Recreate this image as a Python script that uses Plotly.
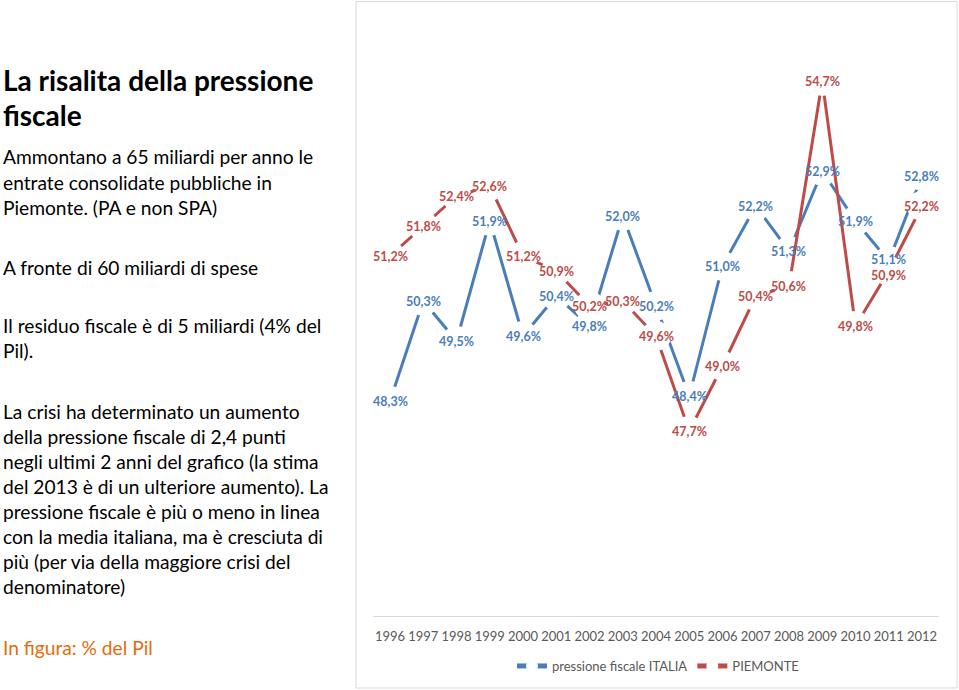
import plotly.graph_objects as go

W, H = 959, 690

years = list(range(1996, 2013))
italia = [48.3, 50.3, 49.5, 51.9, 49.6, 50.4, 49.8, 52.0, 50.2, 48.4, 51.0, 52.2, 51.3, 52.9, 51.9, 51.1, 52.8]
piemonte = [51.2, 51.8, 52.4, 52.6, 51.2, 50.9, 50.2, 50.3, 49.6, 47.7, 49.0, 50.4, 50.6, 54.7, 49.8, 50.9, 52.2]

BLUE = "#4A7EBB"
RED = "#BE4B48"
FONT = "Lato"


def fmt(v):
    return f"{v:.1f}%".replace(".", ",")


def px(x):
    return x / W


def py(y):
    return 1 - y / H


fig = go.Figure()
for name, vals, col in [("pressione fiscale ITALIA", italia, BLUE), ("PIEMONTE", piemonte, RED)]:
    fig.add_trace(go.Scatter(
        x=years, y=vals, name=name, mode="lines+markers",
        line=dict(color=col, width=3),
        marker=dict(symbol="circle", size=30, color="white", line=dict(width=0)),
        hoverinfo="skip",
    ))

# data labels (drawn above both series, like the original)
for vals, col, shifts in [(italia, BLUE, {15: 2}), (piemonte, RED, {15: -4})]:
    for i, (yr, v) in enumerate(zip(years, vals)):
        fig.add_annotation(
            x=yr, y=v, xref="x", yref="y", text=fmt(v), showarrow=False,
            xanchor="center", yanchor="middle", yshift=shifts.get(i, 0),
            font=dict(family=FONT, size=12.5, color=col, weight="bold"),
        )

# left-hand text
BODY = 19.2
left_lines = [
    ("La risalita della pressione", 80, 28, "bold", "#000000"),
    ("fiscale", 115, 28, "bold", "#000000"),
    ("Ammontano a 65 miliardi per anno le", 157, BODY, "normal", "#000000"),
    ("entrate consolidate pubbliche in", 182, BODY, "normal", "#000000"),
    ("Piemonte. (PA e non SPA)", 207, BODY, "normal", "#000000"),
    ("A fronte di 60 miliardi di spese", 267, BODY, "normal", "#000000"),
    ("Il residuo fiscale è di 5 miliardi (4% del", 325, BODY, "normal", "#000000"),
    ("Pil).", 350, BODY, "normal", "#000000"),
    ("La crisi ha determinato un aumento", 411, BODY, "normal", "#000000"),
    ("della pressione fiscale di 2,4 punti", 436, BODY, "normal", "#000000"),
    ("negli ultimi 2 anni del grafico (la stima", 461, BODY, "normal", "#000000"),
    ("del 2013 è di un ulteriore aumento). La", 486, BODY, "normal", "#000000"),
    ("pressione fiscale è più o meno in linea", 511, BODY, "normal", "#000000"),
    ("con la media italiana, ma è cresciuta di", 536, BODY, "normal", "#000000"),
    ("più (per via della maggiore crisi del", 561, BODY, "normal", "#000000"),
    ("denominatore)", 586, BODY, "normal", "#000000"),
    ("In figura: % del Pil", 647, BODY, "normal", "#E46C0A"),
]
for txt, yy, size, weight, col in left_lines:
    fig.add_annotation(
        x=px(1), y=py(yy), xref="paper", yref="paper", text=txt, showarrow=False,
        xanchor="left", yanchor="middle",
        font=dict(family=FONT, size=size, color=col, weight=weight),
    )

# chart frame
fig.add_shape(type="rect", xref="paper", yref="paper",
              x0=px(356), x1=px(957), y0=py(688), y1=py(1.5),
              line=dict(color="#D9D9D9", width=1), fillcolor="rgba(0,0,0,0)", layer="below")

fig.update_layout(
    width=W, height=H,
    margin=dict(l=0, r=0, t=0, b=0),
    paper_bgcolor="white", plot_bgcolor="white",
    showlegend=True,
    legend=dict(orientation="h", x=px(658), xanchor="center", y=py(666), yanchor="middle",
                font=dict(family=FONT, size=13, color="#595959"), itemsizing="constant",
                bgcolor="rgba(0,0,0,0)"),
    xaxis=dict(domain=[px(373.4), px(938.6)], range=[years[0] - 0.5, years[-1] + 0.5],
               tickmode="array", tickvals=years, ticktext=[str(y) for y in years],
               showgrid=False, zeroline=False, showline=True, linecolor="#D9D9D9", linewidth=1,
               ticks="", tickfont=dict(family=FONT, size=13, color="#595959"),
               ticklabelstandoff=8, automargin=False),
    yaxis=dict(domain=[py(616), py(16)], range=[44, 56], visible=False, automargin=False),
)

fig.write_html("out.html", config={"displayModeBar": False},
               post_script="document.body.style.margin='0px';")
